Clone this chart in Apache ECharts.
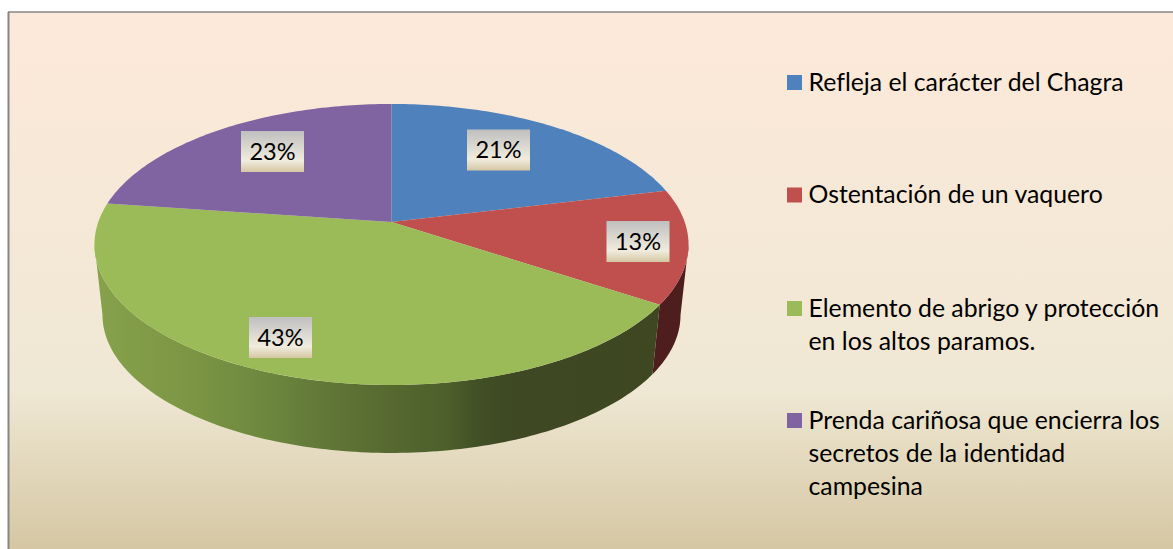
<!DOCTYPE html>
<html>
<head>
<meta charset="utf-8">
<style>
  html, body { margin: 0; padding: 0; background: #fff; }
  #chart { width: 1173px; height: 549px; }
  #chart text { font-variant-ligatures: none !important; font-feature-settings: "liga" 0, "clig" 0 !important; }
</style>
<script src="https://cdn.jsdelivr.net/npm/echarts@6/dist/echarts.min.js"></script>
</head>
<body>
<div id="chart"></div>
<script>
const categories = [
  'Refleja el carácter del Chagra',
  'Ostentación de un vaquero',
  'Elemento de abrigo y protección\nen los altos paramos.',
  'Prenda cariñosa que encierra los\nsecretos de la identidad\ncampesina'
]
// the labels show them rounded
const shares = [21.2, 13.1, 42.9, 22.8]
const colors = ['#4f81bd', '#c0504d', '#9bbb59', '#8064a2']

// perspective disc: the centre of the pie sits above the centre of its ellipse
const pieX = 391.5
const pieY = 222
const radiusX = 293.2
const radiusY = 136.9
const tilt = -0.16
const rimCenterY = 244.5
const baseCenterY = 315
const baseScaleX = 0.973
const baseScaleY = 0.982
const rightTurn = 99.2
const leftTurn = 260.8

const labelCenters = [[498.5, 150], [638, 241.5], [280.5, 337.5], [272.5, 151.5]]
const legendTops = [82.5, 195, 308.5, 420.5]
const legendLineHeight = 33

const total = shares.reduce((a, b) => a + b, 0)

function rimPoint(deg) {
  const t = deg * Math.PI / 180
  const w = 1 + tilt * -Math.cos(t)
  return [pieX + radiusX * Math.sin(t) / w, pieY - radiusY * Math.cos(t) / w]
}

function basePoint(deg) {
  const p = rimPoint(deg)
  return [pieX + (p[0] - pieX) * baseScaleX, baseCenterY + (p[1] - rimCenterY) * baseScaleY]
}

function sweep(from, to, fn) {
  const pts = []
  const n = Math.max(2, Math.ceil(Math.abs(to - from)))
  for (let i = 0; i <= n; i++) pts.push(fn(from + (to - from) * i / n))
  return pts
}

function wallFill(i) {
  if (i === 2) {
    return {
      type: 'linear', x: 94, y: 0, x2: 688, y2: 0, global: true,
      colorStops: [
        { offset: 0, color: '#87a24b' },
        { offset: 0.18, color: '#7a9444' },
        { offset: 0.313, color: '#6a843d' },
        { offset: 0.37, color: '#637a39' },
        { offset: 0.481, color: '#586b31' },
        { offset: 0.594, color: '#4d5f2b' },
        { offset: 0.65, color: '#414f25' },
        { offset: 0.705, color: '#3e4823' },
        { offset: 1, color: '#3e4720' }
      ]
    }
  }
  return i === 1 ? '#4e1d1d' : '#333'
}

function renderSlice(params, api) {
  const i = params.dataIndex
  const before = shares.slice(0, i).reduce((a, b) => a + b, 0)
  const start = before / total * 360
  const end = (before + api.value(0)) / total * 360
  const children = []

  const wallStart = Math.max(start, rightTurn)
  const wallEnd = Math.min(end, leftTurn)
  if (wallEnd > wallStart) {
    children.push({
      type: 'polygon',
      z2: 1,
      shape: { points: sweep(wallStart, wallEnd, rimPoint).concat(sweep(wallEnd, wallStart, basePoint)) },
      style: { fill: wallFill(i) }
    })
  }

  children.push({
    type: 'polygon',
    z2: 2,
    shape: { points: [[pieX, pieY]].concat(sweep(start, end, rimPoint)) },
    style: { fill: colors[i] }
  })

  const c = labelCenters[i]
  children.push({
    type: 'rect',
    z2: 3,
    shape: { x: c[0] - 31.5, y: c[1] - 20.5, width: 63, height: 41 },
    style: {
      fill: new echarts.graphic.LinearGradient(0, 0, 0, 1, [
        { offset: 0, color: '#bfbfbf' },
        { offset: 0.72, color: '#f0ecde' },
        { offset: 1, color: '#d5c7a3' }
      ])
    }
  })
  children.push({
    type: 'text',
    z2: 4,
    style: {
      x: c[0], y: c[1] - 1,
      text: Math.round(api.value(0)) + '%',
      font: '23.5px Lato',
      fill: '#000',
      align: 'center',
      verticalAlign: 'middle'
    }
  })
  return { type: 'group', children: children }
}

const frame = [
  {
    type: 'rect', z: -10, silent: true,
    shape: { x: 9, y: 12, width: 1164, height: 537 },
    style: {
      fill: new echarts.graphic.LinearGradient(0, 0, 0, 1, [
        { offset: 0, color: '#fde9d9' },
        { offset: 0.7, color: '#efe8d4' },
        { offset: 1, color: '#d5c7a3' }
      ])
    }
  },
  { type: 'line', z: -9, silent: true, shape: { x1: 8.5, y1: 12, x2: 8.5, y2: 549 }, style: { stroke: '#868686', lineWidth: 2 } },
  { type: 'line', z: -9, silent: true, shape: { x1: 8, y1: 12, x2: 1173, y2: 12 }, style: { stroke: '#868686', lineWidth: 1.5 } }
]

const legendItems = categories.flatMap((name, i) => [
  {
    type: 'rect', silent: true,
    shape: { x: 787, y: legendTops[i] - 7.5, width: 15, height: 15 },
    style: { fill: colors[i] }
  },
  {
    type: 'text', silent: true,
    style: {
      x: 808.5, y: legendTops[i] - legendLineHeight / 2 - 1.5,
      text: name,
      font: '24.8px Lato',
      lineHeight: legendLineHeight,
      fill: '#000',
      verticalAlign: 'top'
    }
  }
])

const chart = echarts.init(document.getElementById('chart'), null, { renderer: 'svg' })
chart.setOption({
  animation: false,
  backgroundColor: '#fff',
  graphic: frame.concat(legendItems),
  series: [{
    type: 'custom',
    coordinateSystem: 'none',
    silent: true,
    renderItem: renderSlice,
    data: shares.map((v, i) => ({ name: categories[i], value: [v] }))
  }]
})
</script>
</body>
</html>
